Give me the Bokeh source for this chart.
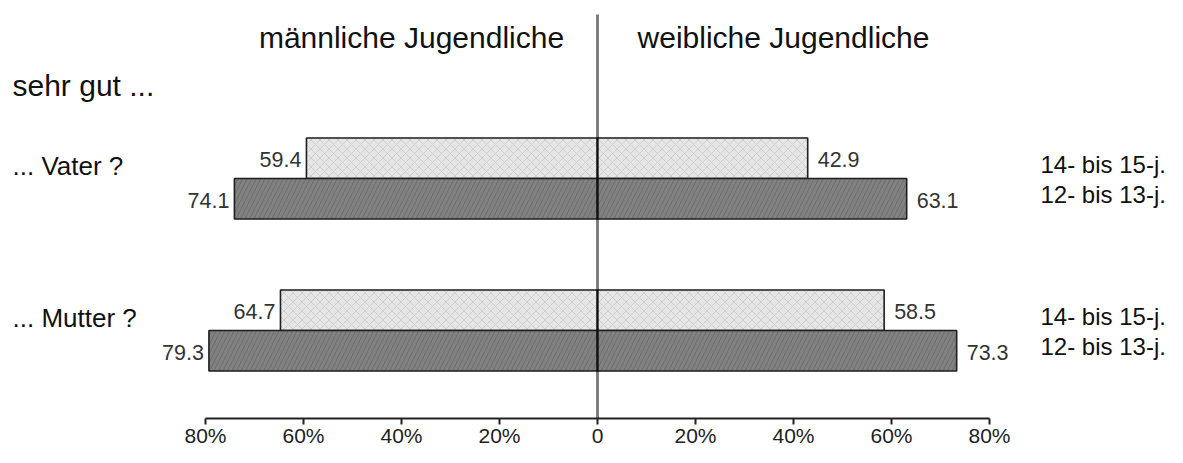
from bokeh.plotting import figure
from bokeh.models import Range1d, LinearAxis, FixedTicker, ColumnDataSource
from bokeh.core.properties import value
from bokeh.embed import file_html
from bokeh.resources import INLINE

# ---- data ----
groups = ["... Vater ?", "... Mutter ?"]
age_labels = ["14- bis 15-j.", "12- bis 13-j."]
male_14_15 = [59.4, 64.7]
male_12_13 = [74.1, 79.3]
female_14_15 = [42.9, 58.5]
female_12_13 = [63.1, 73.3]
tick_values = [-80, -60, -40, -20, 0, 20, 40, 60, 80]
tick_labels = ["80%", "60%", "40%", "20%", "0", "20%", "40%", "60%", "80%"]
header_left = "männliche Jugendliche"
header_right = "weibliche Jugendliche"
title_text = "sehr gut ..."

# ---- layout (y in canvas pixels, top = 0) ----
W, H = 1167, 447
X0, SCALE = 597, 4.9          # canvas x of 0 %, pixels per percent
group_y = [178, 330]
bar_h = 40.5
axis_y = 418
FONT = "Liberation Sans"


def xd(px):
    return (px - X0) / SCALE


p = figure(width=W, height=H, output_backend="svg", toolbar_location=None,
           x_range=Range1d(xd(0), xd(W)), y_range=Range1d(H, 0),
           x_axis_location=None, y_axis_location=None, min_border=0,
           outline_line_color=None, background_fill_color="white")
p.min_border_left = p.min_border_right = p.min_border_top = p.min_border_bottom = 0
p.xgrid.visible = False
p.ygrid.visible = False

light_y = [g - bar_h / 2 for g in group_y]
dark_y = [g + bar_h / 2 for g in group_y]

src = ColumnDataSource(dict(
    y=light_y + dark_y,
    male=male_14_15 + male_12_13,
    female=female_14_15 + female_12_13,
    mneg=[-v for v in male_14_15 + male_12_13],
    fill=["#e6e6e6"] * 2 + ["#818181"] * 2,
    hcol=["#d0d0d0"] * 2 + ["#6c6c6c"] * 2,
    hpat=["x"] * 2 + ["/"] * 2,
    mtxt=[f"{v:.1f}" for v in male_14_15 + male_12_13],
    ftxt=[f"{v:.1f}" for v in female_14_15 + female_12_13],
))

for lft, rgt in (("mneg", 0), (0, "female")):
    p.hbar(y="y", left=lft, right=rgt, height=bar_h, source=src,
           fill_color="fill", line_color="#1e1e1e", line_width=1.6,
           hatch_pattern="hpat", hatch_color="hcol", hatch_scale=9, hatch_weight=1)

# value labels
p.text(x="mneg", y="y", text="mtxt", source=src, text_align="right",
       text_baseline="middle", x_offset=-5, y_offset=1.5,
       text_font=value(FONT), text_font_size="21.5px", text_color="#333333")
p.text(x="female", y="y", text="ftxt", source=src, text_align="left",
       text_baseline="middle", x_offset=10, y_offset=1.5,
       text_font=value(FONT), text_font_size="21.5px", text_color="#333333")

# centre line
p.segment(x0=[0], y0=[14], x1=[0], y1=[axis_y], line_color="black",
          line_alpha=0.5, line_width=3)

# headers
p.text(x=[xd(411), xd(783)], y=[36.5, 36.5], text=[header_left, header_right],
       text_align="center", text_baseline="middle",
       text_font=value(FONT), text_font_size="30px", text_color="#111111")
p.text(x=[xd(12)], y=[85], text=[title_text], text_align="left",
       text_baseline="middle", text_font=value(FONT),
       text_font_size="30px", text_color="#111111")

# group labels
p.text(x=[xd(12)] * 2, y=[g - 13 for g in group_y], text=groups,
       text_align="left", text_baseline="middle", text_font=value(FONT),
       text_font_size="26px", text_color="#111111")

# age labels on the right
rx, ry, rt = [], [], []
for g in group_y:
    rx += [xd(1040), xd(1040)]
    ry += [g - 14, g + 16]
    rt += age_labels
p.text(x=rx, y=ry, text=rt, text_align="left", text_baseline="middle",
       text_font=value(FONT), text_font_size="24px", text_color="#111111")

# x axis
ax = LinearAxis(fixed_location=axis_y, bounds=(-80, 80),
                ticker=FixedTicker(ticks=tick_values),
                major_label_overrides={t: l for t, l in zip(tick_values, tick_labels)})
ax.axis_line_color = "#222222"
ax.axis_line_width = 2
ax.major_tick_line_color = "#222222"
ax.major_tick_line_width = 2
ax.major_tick_out = 6
ax.major_tick_in = 0
ax.minor_tick_line_color = None
ax.major_label_standoff = -1
ax.major_label_text_font = FONT
ax.major_label_text_font_size = "21px"
ax.major_label_text_color = "#222222"
p.add_layout(ax, "below")

open("out.html", "w").write(file_html(p, INLINE))
